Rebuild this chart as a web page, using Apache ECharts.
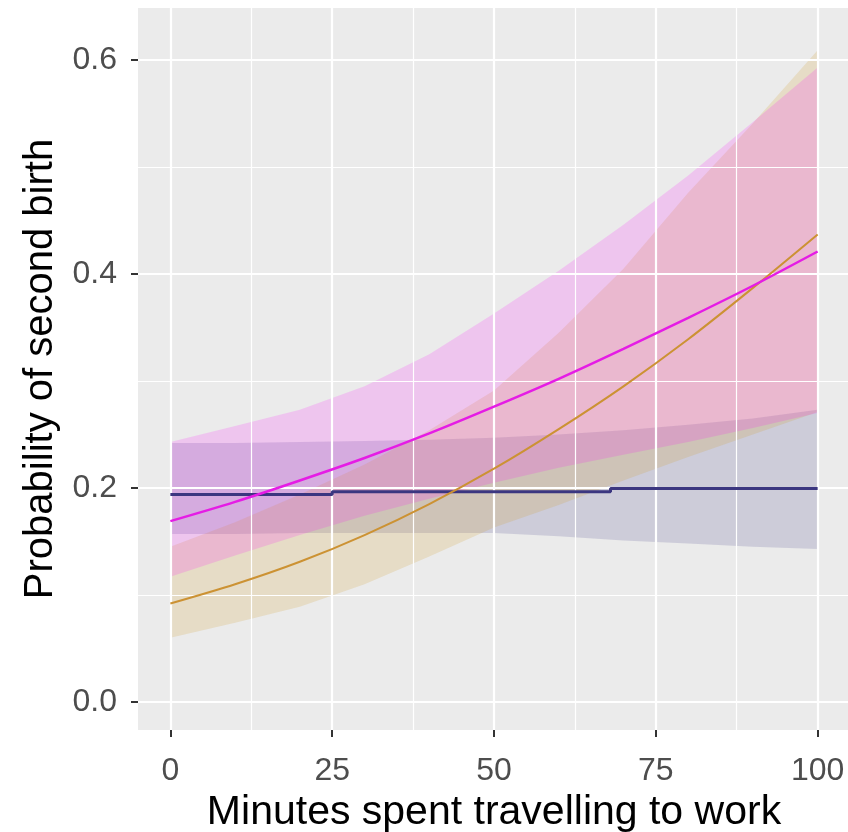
<!DOCTYPE html>
<html>
<head>
<meta charset="utf-8">
<script src="https://cdn.jsdelivr.net/npm/echarts@6/dist/echarts.min.js"></script>
<style>
  html, body { margin: 0; padding: 0; background: #fff; }
  #chart { width: 848px; height: 832px; }
</style>
</head>
<body>
<div id="chart"></div>
<script>
// minutes travelling to work (x grid for the fitted curves)
const minutes = [0, 10, 20, 30, 40, 50, 60, 70, 80, 90, 100];

// magenta group
const magentaFit  = [0.169, 0.187, 0.207, 0.228, 0.251, 0.276, 0.302, 0.330, 0.359, 0.389, 0.421];
const magentaLow  = [0.117, 0.137, 0.156, 0.174, 0.190, 0.205, 0.219, 0.231, 0.243, 0.256, 0.270];
const magentaHigh = [0.243, 0.258, 0.273, 0.295, 0.325, 0.363, 0.403, 0.446, 0.492, 0.542, 0.593];

// orange group
const orangeFit  = [0.092, 0.110, 0.131, 0.156, 0.185, 0.218, 0.255, 0.295, 0.339, 0.387, 0.437];
const orangeLow  = [0.060, 0.074, 0.089, 0.110, 0.136, 0.163, 0.184, 0.207, 0.229, 0.250, 0.271];
const orangeHigh = [0.145, 0.168, 0.194, 0.222, 0.254, 0.291, 0.345, 0.405, 0.476, 0.541, 0.609];

// navy group (almost flat, small steps)
const navyX    = [0, 25, 25, 68, 68, 100];
const navyFit  = [0.194, 0.194, 0.1965, 0.1965, 0.1995, 0.1995];
const navyLow  = [0.157, 0.157, 0.158, 0.158, 0.158, 0.158, 0.155, 0.151, 0.148, 0.145, 0.143];
const navyHigh = [0.242, 0.242, 0.243, 0.244, 0.245, 0.247, 0.250, 0.254, 0.259, 0.265, 0.273];

// axis ticks
const xTicks = [0, 25, 50, 75, 100];
const yTicks = [0, 0.2, 0.4, 0.6];

const xMinor = xTicks.slice(1).map((v, i) => (v + xTicks[i]) / 2);
const yMinor = yTicks.slice(1).map((v, i) => (v + yTicks[i]) / 2);

const FONT = '"Liberation Sans", Arial, sans-serif';

function ribbon(name, low, high, fill) {
  return {
    type: 'custom',
    name: name,
    z: 3,
    silent: true,
    clip: true,
    data: [[0, 0]],
    renderItem: function (params, api) {
      const top = minutes.map((x, i) => api.coord([x, high[i]]));
      const bottom = minutes.map((x, i) => api.coord([x, low[i]])).reverse();
      return {
        type: 'polygon',
        shape: { points: top.concat(bottom) },
        style: { fill: fill }
      };
    }
  };
}

function fitLine(name, xsArr, ys, color, width, smooth) {
  return {
    type: 'line',
    name: name,
    z: 5,
    silent: true,
    showSymbol: false,
    smooth: smooth,
    data: xsArr.map((x, i) => [x, ys[i]]),
    lineStyle: { color: color, width: width }
  };
}

function gridLines(name, xv, yv, width) {
  return {
    type: 'line',
    name: name,
    z: 1,
    silent: true,
    showSymbol: false,
    data: [[-5, -1]],
    lineStyle: { opacity: 0 },
    markLine: {
      silent: true,
      symbol: 'none',
      animation: false,
      label: { show: false },
      lineStyle: { color: '#ffffff', width: width, type: 'solid' },
      data: xv.map(v => ({ xAxis: v })).concat(yv.map(v => ({ yAxis: v })))
    }
  };
}

const chart = echarts.init(document.getElementById('chart'), null, { renderer: 'canvas' });

chart.setOption({
  animation: false,
  backgroundColor: '#ffffff',
  grid: {
    left: 138, top: 8, width: 712, height: 722,
    outerBoundsMode: 'none',
    containLabel: false,
    show: true, backgroundColor: '#EBEBEB', borderWidth: 0
  },
  xAxis: {
    type: 'value',
    min: -5, max: 105,
    name: 'Minutes spent travelling to work',
    nameLocation: 'middle',
    nameGap: 58,
    nameTextStyle: { fontFamily: FONT, fontSize: 41, color: '#000000' },
    axisLine: { show: true, onZero: false, lineStyle: { color: 'rgba(0,0,0,0)' } },
    splitLine: { show: false },
    axisTick: {
      show: true, customValues: xTicks, length: 7,
      lineStyle: { color: '#333333', width: 2 }
    },
    axisLabel: {
      customValues: xTicks, margin: 25,
      fontFamily: FONT, fontSize: 32, color: '#4D4D4D'
    }
  },
  yAxis: {
    type: 'value',
    min: -0.0262, max: 0.6486,
    name: 'Probability of second birth',
    nameLocation: 'middle',
    nameGap: 77,
    nameRotate: 90,
    nameTextStyle: { fontFamily: FONT, fontSize: 40, color: '#000000' },
    axisLine: { show: true, onZero: false, lineStyle: { color: 'rgba(0,0,0,0)' } },
    splitLine: { show: false },
    axisTick: {
      show: true, customValues: yTicks, length: 7,
      lineStyle: { color: '#333333', width: 2 }
    },
    axisLabel: {
      customValues: yTicks, margin: 21,
      fontFamily: FONT, fontSize: 32, color: '#4D4D4D',
      formatter: v => v.toFixed(1)
    }
  },
  series: [
    gridLines('minor', xMinor, yMinor, 1.2),
    gridLines('major', xTicks, yTicks, 2.2),
    ribbon('navy band', navyLow, navyHigh, 'rgba(59,54,128,0.17)'),
    ribbon('orange band', orangeLow, orangeHigh, 'rgba(212,160,50,0.20)'),
    ribbon('magenta band', magentaLow, magentaHigh, 'rgba(255,0,255,0.16)'),
    fitLine('navy', navyX, navyFit, '#3B3680', 3, false),
    fitLine('orange', minutes, orangeFit, '#CC9233', 2, 0.3),
    fitLine('magenta', minutes, magentaFit, '#E51CE5', 2.5, 0.3)
  ]
});
</script>
</body>
</html>
